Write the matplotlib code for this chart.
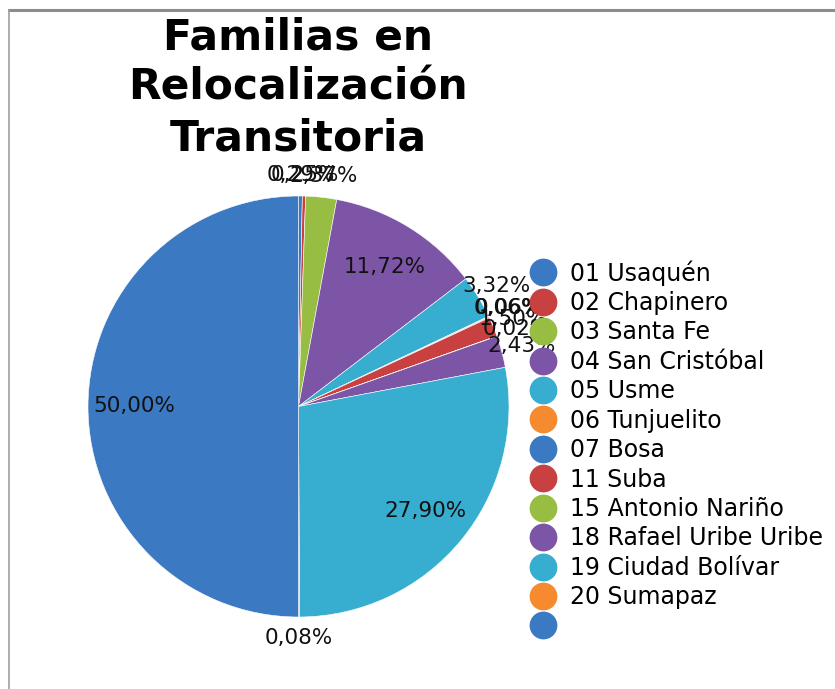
import numpy as np
import matplotlib
matplotlib.use("Agg")
import matplotlib.pyplot as plt
from matplotlib.lines import Line2D

# ---- Datos ----
localidades = ["01 Usaquén", "02 Chapinero", "03 Santa Fe", "04 San Cristóbal",
               "05 Usme", "06 Tunjuelito", "07 Bosa", "11 Suba",
               "15 Antonio Nariño", "18 Rafael Uribe Uribe", "19 Ciudad Bolívar",
               "20 Sumapaz", ""]
porcentajes = [0.29, 0.25, 2.37, 11.72, 3.32, 0.06, 0.06, 1.50, 0.02, 2.43,
               27.90, 0.08, 50.00]
etiquetas = ["0,29%", "0,25%", "2,37%", "11,72%", "3,32%", "0,06%", "0,06%",
             "1,50%", "0,02%", "2,43%", "27,90%", "0,08%", "50,00%"]

paleta = ["#3C79C3", "#C8403F", "#97BE43", "#7D55A6", "#37AECF", "#F58A2E"]
colores = [paleta[i % len(paleta)] for i in range(len(porcentajes))]

plt.rcParams["font.family"] = ["DejaVu Sans"]

fig = plt.figure(figsize=(8.35, 6.89), dpi=100)
W, H = 835, 689

# marco gris (arriba e izquierda)
fig.add_artist(Line2D([9 / W, 1], [1 - 10 / H, 1 - 10 / H], color="#8c8c8c", lw=2.2,
                      transform=fig.transFigure))
fig.add_artist(Line2D([9 / W, 9 / W], [0, 1 - 10 / H], color="#a0a0a0", lw=1.2,
                      transform=fig.transFigure))

ax = fig.add_axes([88 / W, (H - 617) / H, 421 / W, 421 / H])
wedges, _ = ax.pie(porcentajes, colors=colores, startangle=90, counterclock=False,
                   wedgeprops=dict(linewidth=0.4, edgecolor="white"))
ax.set_xlim(-1, 1)
ax.set_ylim(-1, 1)
ax.set_aspect("equal")

# etiquetas: dentro para las grandes, fuera para las pequeñas
for w, txt, p in zip(wedges, etiquetas, porcentajes):
    ang = np.deg2rad((w.theta1 + w.theta2) / 2)
    r = 0.78 if p > 10 else 1.1
    ax.text(r * np.cos(ang), r * np.sin(ang), txt, ha="center", va="center",
            fontsize=15.5, color="#111111", clip_on=False)

fig.text(298 / W, 1 - 88 / H, "Familias en\nRelocalización\nTransitoria",
         ha="center", va="center", fontsize=30.5, fontweight="bold",
         linespacing=1.27)

handles = [Line2D([], [], marker="o", linestyle="none", markersize=19,
                  markerfacecolor=c, markeredgecolor=c) for c in colores]
fig.legend(handles, localidades, loc="upper left",
           bbox_to_anchor=(529 / W, 1 - 260 / H), frameon=False,
           fontsize=17, labelspacing=0.23, handletextpad=0.55,
           handlelength=1.2, borderpad=0, borderaxespad=0)

fig.savefig("out.png", dpi=100, facecolor="white")
